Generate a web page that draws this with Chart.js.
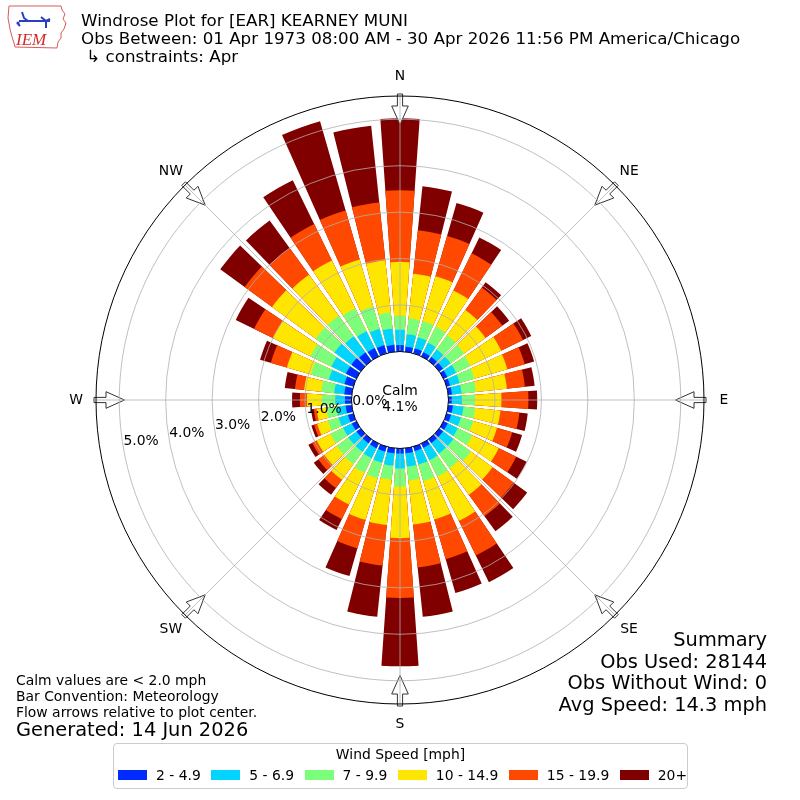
<!DOCTYPE html>
<html>
<head>
<meta charset="utf-8">
<script src="https://cdn.jsdelivr.net/npm/chart.js@4/dist/chart.umd.min.js"></script>
<style>
  html, body { margin: 0; padding: 0; background: #fff; }
  #wrap { position: relative; width: 800px; height: 800px; font-family: "DejaVu Sans", sans-serif; color: #000; }
  #rose { position: absolute; left: 0; top: 0; }
  .t { position: absolute; white-space: nowrap; }
  .r { text-align: right; }
  #legend { position: absolute; left: 113px; top: 743px; width: 573px; height: 44px; border: 1px solid #cccccc; border-radius: 4px; background: #fff; white-space: nowrap; }
  #legend .lt { position: absolute; left: 0; right: 0; top: 1px; text-align: center; font-size: 13.9px; line-height: 18px; }
  #legend .items { position: absolute; left: 4px; top: 22px; display: flex; align-items: center; height: 18px; white-space: nowrap; }
  #legend .sw { flex: 0 0 auto; width: 29px; height: 10px; margin-right: 9px; }
  #legend .lab { flex: 0 0 auto; font-size: 13.9px; margin-right: 10.5px; line-height: 18px; white-space: nowrap; }
</style>
</head>
<body>
<div id="wrap">
  <canvas id="rose" width="800" height="800"></canvas>
  <svg class="t" style="left:6px;top:4px" width="62" height="46" viewBox="0 0 62 46">
    <path d="M3 2 L55 2 L56 6 L59 10 L57 15 L60 19 L58 25 L55 29 L55 34 L52 38 L51 44 L9 43 L8 39 L6 33 L4 25 L2 14 Z" fill="none" stroke="#d85a5a" stroke-width="1"/>
    <path d="M13 17 L44 17 M16 8 L18 14 L22 17 M35 13 L40 17 L44 15 M40 17 L40 24 M12 20 L14 22" fill="none" stroke="#2a3fbf" stroke-width="2"/>
    <circle cx="12" cy="19" r="1.6" fill="#2a3fbf"/>
    <text x="10" y="41" font-family="Liberation Serif, serif" font-style="italic" font-size="17" fill="#d42a2a">IEM</text>
  </svg>
  <div class="t" style="left:81px;top:10px;font-size:16.7px;line-height:20px">Windrose Plot for [EAR] KEARNEY MUNI</div>
  <div class="t" style="left:81px;top:28px;font-size:16.7px;line-height:20px">Obs Between: 01 Apr 1973 08:00 AM - 30 Apr 2026 11:56 PM America/Chicago</div>
  <div class="t" style="left:81px;top:46px;font-size:16.7px;line-height:20px">&nbsp;↳ constraints: Apr</div>

  <div class="t" style="left:16px;top:672px;font-size:13.9px;line-height:16px">Calm values are &lt; 2.0 mph</div>
  <div class="t" style="left:16px;top:688px;font-size:13.9px;line-height:16px">Bar Convention: Meteorology</div>
  <div class="t" style="left:16px;top:704px;font-size:13.9px;line-height:16px">Flow arrows relative to plot center.</div>
  <div class="t" style="left:16px;top:718px;font-size:19.4px;line-height:24px">Generated: 14 Jun 2026</div>

  <div class="t r" style="right:33px;top:628px;font-size:19.4px;line-height:24px">Summary</div>
  <div class="t r" style="right:33px;top:650px;font-size:19.4px;line-height:24px">Obs Used: 28144</div>
  <div class="t r" style="right:33px;top:671px;font-size:19.4px;line-height:24px">Obs Without Wind: 0</div>
  <div class="t r" style="right:33px;top:693px;font-size:19.4px;line-height:24px">Avg Speed: 14.3 mph</div>

  <div id="legend"><div class="lt">Wind Speed [mph]</div><div class="items" id="items"></div></div>
</div>
<script>
// ---- data (percent of observations, per direction and speed bin) ----
const directions = [0,10,20,30,40,50,60,70,80,90,100,110,120,130,140,150,160,170,
                    180,190,200,210,220,230,240,250,260,270,280,290,300,310,320,330,340,350];
const speedBins = ['2 - 4.9', '5 - 6.9', '7 - 9.9', '10 - 14.9', '15 - 19.9', '20+'];
const pct_2_5   = [0.14,0.11,0.11,0.10,0.10,0.10,0.09,0.08,0.08,0.07,0.10,0.10,0.10,0.10,0.10,0.10,0.10,0.11,
                   0.11,0.11,0.11,0.11,0.11,0.11,0.11,0.12,0.13,0.14,0.16,0.20,0.25,0.25,0.22,0.20,0.18,0.15];
const pct_5_7   = [0.33,0.27,0.25,0.23,0.20,0.20,0.21,0.21,0.21,0.22,0.23,0.22,0.24,0.28,0.28,0.30,0.30,0.29,
                   0.32,0.27,0.25,0.24,0.22,0.22,0.21,0.21,0.20,0.21,0.22,0.35,0.35,0.45,0.43,0.40,0.37,0.35];
const pct_7_10  = [0.30,0.34,0.36,0.38,0.38,0.36,0.34,0.33,0.31,0.28,0.25,0.28,0.35,0.46,0.39,0.39,0.37,0.30,
                   0.39,0.30,0.35,0.35,0.33,0.31,0.30,0.24,0.22,0.29,0.28,0.40,0.50,0.50,0.55,0.55,0.50,0.35];
const pct_10_15 = [1.16,0.97,1.01,0.87,0.67,0.57,0.74,0.74,0.67,0.57,0.55,0.53,0.63,0.58,0.71,1.06,0.86,0.95,
                   1.11,0.98,0.93,0.76,0.42,0.33,0.33,0.24,0.21,0.32,0.37,0.54,0.90,1.16,1.09,1.15,1.05,1.13];
const pct_15_20 = [1.54,0.94,0.90,0.89,0.60,0.45,0.52,0.39,0.39,0.58,0.41,0.34,0.42,0.56,0.57,0.83,0.89,0.93,
                   1.29,0.88,0.64,0.35,0.22,0.16,0.11,0.07,0.06,0.15,0.20,0.36,0.45,0.73,0.71,0.87,1.10,1.25];
const pct_20p   = [1.55,0.95,0.74,0.38,0.14,0.18,0.20,0.21,0.21,0.19,0.18,0.22,0.25,0.36,0.40,0.64,0.76,1.07,
                   1.47,1.11,0.62,0.26,0.18,0.12,0.09,0.06,0.06,0.17,0.22,0.24,0.44,0.65,0.73,1.05,2.00,1.66];
const calmPct = 4.1;
const ringTicks = [0, 1, 2, 3, 4, 5];
const compassLabels = ['N', 'NE', 'E', 'SE', 'S', 'SW', 'W', 'NW'];

// ---- styling ----
const binColors = ['#002aff', '#00d4ff', '#7bff7b', '#ffe600', '#ff4800', '#800000'];
const RMIN = -1.044, RMAX = 5.5;
const BAR_DEG = 8, GAP_DEG = 2;
const GRID = '#b0b0b0';

// stacked (cumulative) values per bin
const binValues = [pct_2_5, pct_5_7, pct_7_10, pct_10_15, pct_15_20, pct_20p];
const cumulative = [];
let running = directions.map(() => 0);
binValues.forEach(arr => {
  running = running.map((s, i) => s + arr[i]);
  cumulative.push(running.slice());
});

// each direction = a bar slot followed by a gap slot
const labels = directions.flatMap(d => [d + '°', '']);
const datasets = speedBins.map((name, k) => ({
  label: name,
  data: directions.flatMap((d, i) => [cumulative[k][i], RMIN]),
  backgroundColor: binColors[k],
  borderWidth: 0,
  angle: c => (c.dataIndex % 2 === 0 ? BAR_DEG : GAP_DEG)
}));

// legend
const items = document.getElementById('items');
speedBins.forEach((name, k) => {
  const sw = document.createElement('span'); sw.className = 'sw'; sw.style.background = binColors[k];
  const lb = document.createElement('span'); lb.className = 'lab'; lb.textContent = name;
  items.appendChild(sw); items.appendChild(lb);
});

function polar(cx, cy, r, deg) {
  const a = deg * Math.PI / 180;
  return [cx + r * Math.sin(a), cy - r * Math.cos(a)];
}

const decor = {
  id: 'windroseDecor',
  afterDatasetsDraw(chart) {
    const s = chart.scales.r, ctx = chart.ctx;
    const cx = s.xCenter, cy = s.yCenter;
    const r0 = s.getDistanceFromCenterForValue(0);
    const rOut = s.getDistanceFromCenterForValue(RMAX);
    ctx.save();
    // flow arrows at the 8 compass points, pointing to the centre
    compassLabels.forEach((_, i) => {
      const deg = i * 45, a = deg * Math.PI / 180;
      const ux = Math.sin(a), uy = -Math.cos(a), px = Math.cos(a), py = Math.sin(a);
      const pt = (R, w) => [cx + ux * R + px * w, cy + uy * R + py * w];
      const tail = rOut + 2, neck = rOut - 10, tip = rOut - 28.5, w = 2.6, hw = 8.3;
      const pts = [pt(tail, w), pt(neck, w), pt(neck, hw), pt(tip, 0), pt(neck, -hw), pt(neck, -w), pt(tail, -w)];
      ctx.beginPath();
      pts.forEach((p, j) => j ? ctx.lineTo(p[0], p[1]) : ctx.moveTo(p[0], p[1]));
      ctx.closePath();
      ctx.fillStyle = '#ffffff'; ctx.fill();
      ctx.lineWidth = 1; ctx.strokeStyle = '#333333'; ctx.stroke();
    });
    // direction grid lines
    ctx.strokeStyle = GRID; ctx.lineWidth = 0.8;
    compassLabels.forEach((_, i) => {
      const p1 = polar(cx, cy, r0, i * 45), p2 = polar(cx, cy, rOut, i * 45);
      ctx.beginPath(); ctx.moveTo(p1[0], p1[1]); ctx.lineTo(p2[0], p2[1]); ctx.stroke();
    });
    // calm disc
    ctx.beginPath(); ctx.arc(cx, cy, r0, 0, Math.PI * 2);
    ctx.fillStyle = '#ffffff'; ctx.fill();
    ctx.restore();
  },
  afterDraw(chart) {
    const s = chart.scales.r, ctx = chart.ctx;
    const cx = s.xCenter, cy = s.yCenter;
    const rOut = s.getDistanceFromCenterForValue(RMAX);
    ctx.save();
    // outer frame
    ctx.beginPath(); ctx.arc(cx, cy, rOut, 0, Math.PI * 2);
    ctx.strokeStyle = '#000'; ctx.lineWidth = 1; ctx.stroke();
    ctx.fillStyle = '#000';
    ctx.font = '13.9px "DejaVu Sans"';
    // ring labels
    ctx.textAlign = 'left'; ctx.textBaseline = 'middle';
    ringTicks.forEach(v => {
      const p = polar(cx, cy, s.getDistanceFromCenterForValue(v), 260);
      ctx.fillText(v.toFixed(1) + '%', p[0], p[1] - 7);
    });
    // compass labels
    ctx.textAlign = 'center';
    compassLabels.forEach((t, i) => {
      const p = polar(cx, cy, rOut + 20, i * 45);
      ctx.fillText(t, p[0], p[1]);
    });
    // calm text
    ctx.fillText('Calm', cx, cy - 9);
    ctx.fillText(calmPct.toFixed(1) + '%', cx, cy + 7);
    ctx.restore();
  }
};

new Chart(document.getElementById('rose'), {
  type: 'polarArea',
  data: { labels, datasets },
  options: {
    responsive: false,
    maintainAspectRatio: false,
    animation: false,
    events: [],
    layout: { padding: { left: 96, right: 96, top: 96, bottom: 96 } },
    plugins: { legend: { display: false }, tooltip: { enabled: false }, title: { display: false } },
    scales: {
      r: {
        type: 'radialLinear',
        min: RMIN, max: RMAX,
        startAngle: -BAR_DEG / 2,
        z: 1,
        beginAtZero: false,
        ticks: { display: false, stepSize: 1 },
        afterBuildTicks: sc => { sc.ticks = ringTicks.map(v => ({ value: v })); },
        pointLabels: { display: false },
        angleLines: { display: false },
        grid: {
          z: 1,
          circular: true,
          color: c => (c.tick && c.tick.value === 0 ? '#000000' : GRID),
          lineWidth: c => (c.tick && c.tick.value === 0 ? 1 : 0.8)
        }
      }
    }
  },
  plugins: [decor]
});
</script>
</body>
</html>
